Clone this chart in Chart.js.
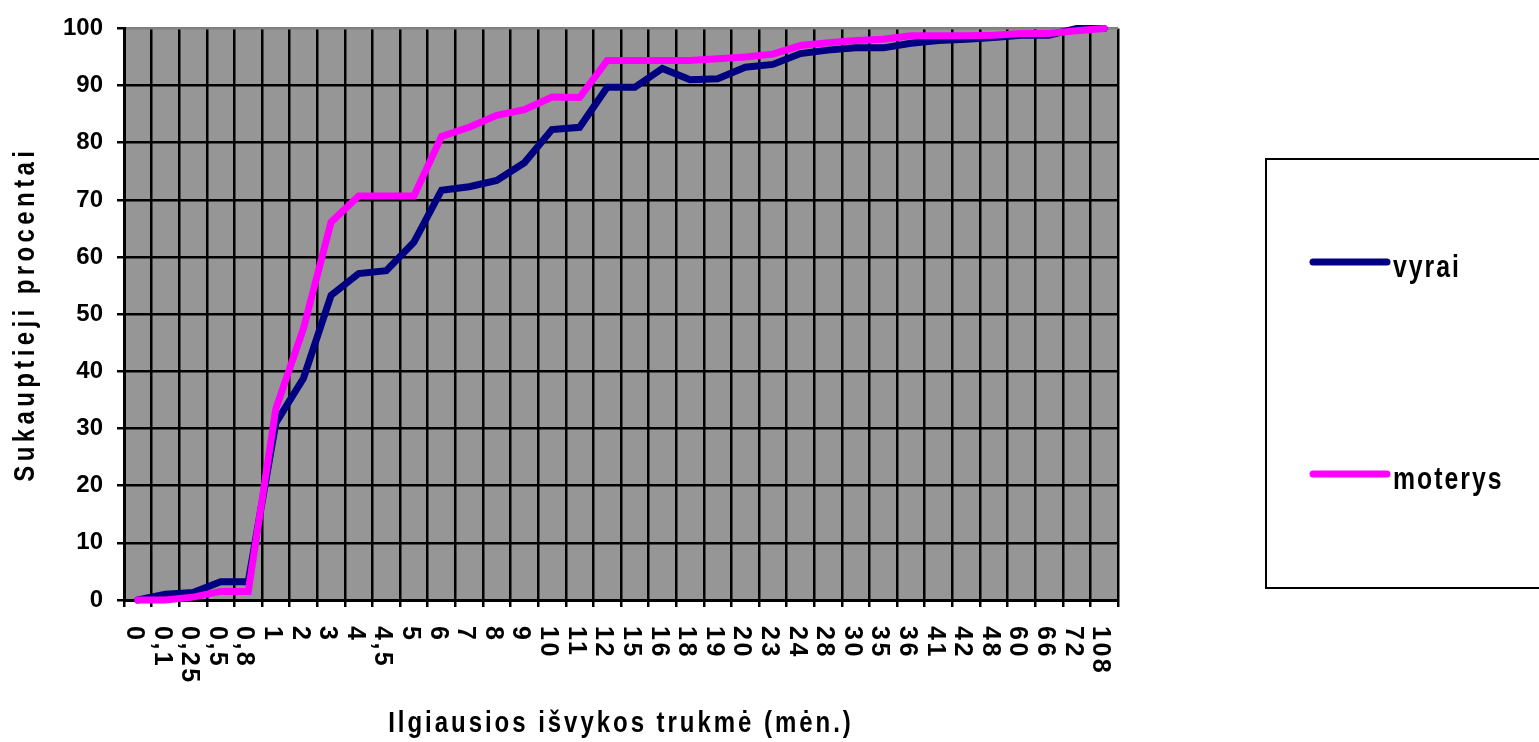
<!DOCTYPE html>
<html lang="lt">
<head>
<meta charset="UTF-8">
<title>Sukauptieji procentai</title>
<script src="https://cdn.jsdelivr.net/npm/chart.js"></script>
<style>
  html, body { margin: 0; padding: 0; background: #fff; }
  #wrap { width: 1539px; height: 742px; }
</style>
</head>
<body>
<div id="wrap"><canvas id="chart"></canvas></div>
<script>
// data
const categories = ['0','0,1','0,25','0,5','0,8','1','2','3','4','4,5','5','6','7','8','9','10','11','12',
  '15','16','18','19','20','23','24','28','30','35','36','41','42','48','60','66','72','108'];
const vyrai = [0, 1, 1.3, 3.2, 3.2, 31, 38.8, 53.3, 57.1, 57.6, 62.6, 71.7, 72.3, 73.4, 76.5, 82.3, 82.7, 89.7,
  89.7, 93.0, 91.0, 91.2, 93.2, 93.7, 95.6, 96.2, 96.6, 96.6, 97.4, 97.9, 98.1, 98.4, 98.8, 98.8, 100, 100];
const moterys = [0, 0, 0.5, 1.5, 1.5, 33.5, 47.5, 66.1, 70.7, 70.7, 70.7, 81.1, 82.7, 84.8, 85.8, 88.0, 87.9, 94.4,
  94.4, 94.4, 94.4, 94.7, 95.0, 95.5, 97.0, 97.5, 97.9, 98.1, 98.7, 98.7, 98.7, 98.8, 99.1, 99.1, 99.6, 100];
const yTicks = [0, 10, 20, 30, 40, 50, 60, 70, 80, 90, 100];
const xTitle = 'Ilgiausios išvykos trukmė (mėn.)';
const yTitle = 'Sukauptieji procentai';

const FONT = '"Liberation Sans", Arial, sans-serif';

// narrow, tall bold text like the old Excel picture
function drawText(ctx, text, x, y, opts) {
  ctx.save();
  ctx.translate(x, y);
  if (opts.rotate) ctx.rotate(opts.rotate);
  ctx.scale(opts.sx || 1, 1);
  ctx.font = 'bold ' + opts.size + 'px ' + FONT;
  ctx.letterSpacing = (opts.spacing || 0) + 'px';
  ctx.fillStyle = '#000';
  ctx.textAlign = opts.align || 'left';
  ctx.textBaseline = opts.baseline || 'alphabetic';
  ctx.fillText(text, 0, 0);
  ctx.restore();
}

const bgPlugin = {
  id: 'bg',
  beforeDraw(chart) {
    const { ctx, chartArea: a } = chart;
    ctx.save();
    ctx.fillStyle = '#fff';
    ctx.fillRect(0, 0, chart.width, chart.height);
    ctx.fillStyle = '#969696';
    ctx.fillRect(a.left, a.top, a.right - a.left, a.bottom - a.top);
    ctx.restore();
  }
};

const textPlugin = {
  id: 'texts',
  afterDraw(chart) {
    const { ctx, chartArea: a } = chart;
    const xs = chart.scales.x;
    // x labels turned clockwise
    xs.getLabels().forEach((lab, i) => {
      drawText(ctx, lab, xs.getPixelForValue(i) - 4, 626,
        { size: 25, spacing: 2.5, rotate: Math.PI / 2, baseline: 'middle' });
    });
    drawText(ctx, xTitle, (a.left + a.right) / 2, 732, { size: 30, sx: 0.8, spacing: 3.7, align: 'center' });
    drawText(ctx, yTitle, 34, (a.top + a.bottom) / 2, { size: 30, sx: 0.8, spacing: 5.5, align: 'center', rotate: -Math.PI / 2 });
  }
};

const boxLegend = {
  id: 'boxLegend',
  afterDraw(chart) {
    const { ctx } = chart;
    const ys = [262, 474];
    ctx.save();
    ctx.strokeStyle = '#000';
    ctx.lineWidth = 2;
    ctx.strokeRect(1266, 159, 290, 429);
    chart.data.datasets.forEach((ds, i) => {
      ctx.strokeStyle = ds.borderColor;
      ctx.lineWidth = 7;
      ctx.lineCap = 'round';
      ctx.beginPath();
      ctx.moveTo(1313, ys[i]);
      ctx.lineTo(1387, ys[i]);
      ctx.stroke();
      drawText(ctx, ds.label, 1393, ys[i] + 15, { size: 31, sx: 0.8, spacing: 2.5 });
    });
    ctx.restore();
  }
};

new Chart(document.getElementById('chart'), {
  type: 'line',
  data: {
    labels: categories,
    datasets: [
      { label: 'vyrai', data: vyrai, borderColor: '#000080', order: 1 },
      { label: 'moterys', data: moterys, borderColor: '#FF00FF', order: 0 }
    ]
  },
  options: {
    responsive: true,
    maintainAspectRatio: false,
    animation: false,
    layout: { padding: { top: 28, right: 421, left: 0, bottom: 0 } },
    elements: {
      line: { borderWidth: 7, tension: 0, borderCapStyle: 'round', borderJoinStyle: 'miter', fill: false },
      point: { radius: 0, hoverRadius: 0 }
    },
    datasets: { line: { clip: false } },
    plugins: { legend: { display: false }, tooltip: { enabled: false } },
    scales: {
      x: {
        type: 'category',
        offset: true,
        afterFit(s) { s.height = 142; },
        grid: {
          offset: true,
          color: ctx => (ctx.index >= categories.length ? '#808080' : '#000'),
          tickColor: '#000',
          lineWidth: 2.5,
          tickLength: 7
        },
        border: { color: '#000', width: 3 },
        ticks: { display: false, autoSkip: false },
        title: { display: false }
      },
      y: {
        min: 0,
        max: 100,
        afterFit(s) { s.width = 124; },
        afterBuildTicks(s) { s.ticks = yTicks.map(v => ({ value: v })); },
        grid: {
          color: ctx => (ctx.tick && ctx.tick.value === 100 ? '#808080' : '#000'),
          tickColor: '#000',
          lineWidth: 2.5,
          tickLength: 7
        },
        border: { color: '#000', width: 3 },
        ticks: {
          color: '#000',
          padding: 14,
          font: { family: FONT, size: 24, weight: 'bold' }
        },
        title: { display: false }
      }
    }
  },
  plugins: [bgPlugin, textPlugin, boxLegend]
});
</script>
</body>
</html>
